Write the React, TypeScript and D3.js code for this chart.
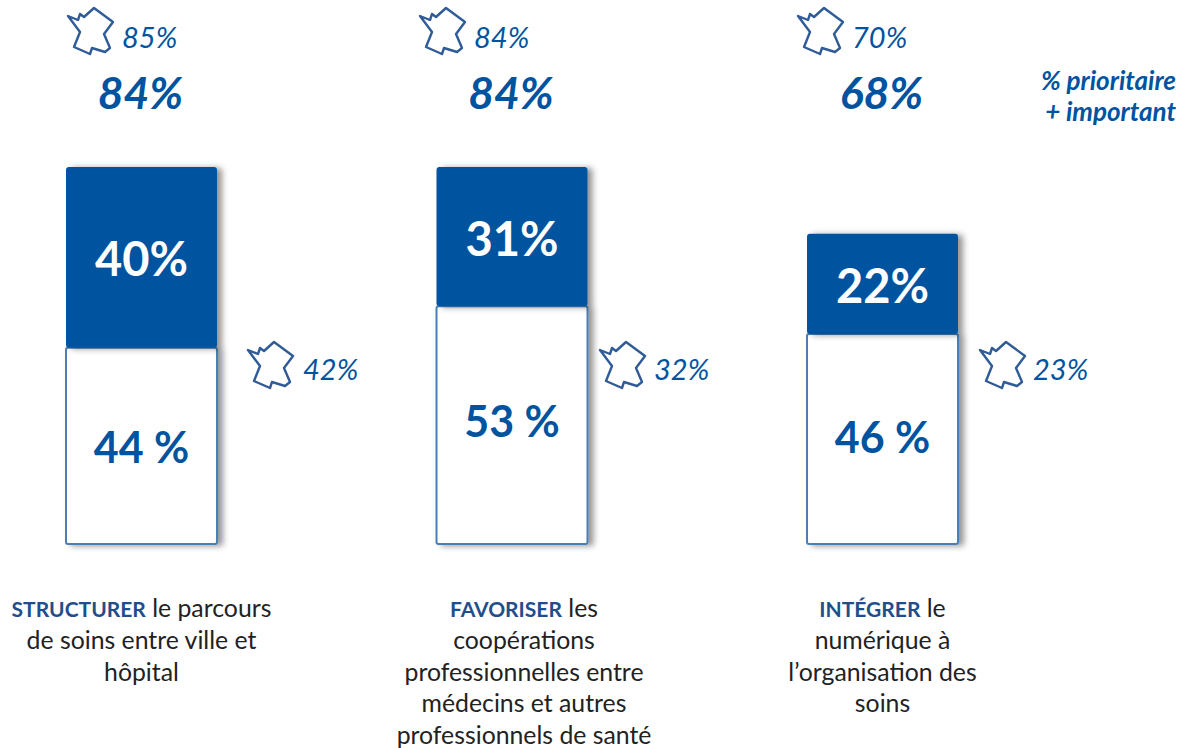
import React from "react";
import * as d3 from "d3";

const categories = ["structurer", "favoriser", "integrer"];
// segment heights, labels as printed
const prioritaire = [40.3, 31, 22.3];
const important = [43.7, 53, 46.8];
const prioritaireLabels = ["40%", "31%", "22%"];
const importantLabels = ["44 %", "53 %", "46 %"];
const totalLabels = ["84%", "84%", "68%"];
const franceTotalLabels = ["85%", "84%", "70%"];
const francePrioritaireLabels = ["42%", "32%", "23%"];
const captions = [
  [[["STRUCTURER", true], [" le parcours", false]], "de soins entre ville et", "hôpital"],
  [[["FAVORISER", true], [" les", false]], "coopérations", "professionnelles entre", "médecins et autres", "professionnels de santé"],
  [[["INTÉGRER", true], [" le", false]], "numérique à", "l’organisation des", "soins"],
];
const legendLines = ["% prioritaire", "+ important"];

// layout: the icons and inner labels are not placed evenly in the original
const topIconX = [68, 420, 798];
const sideIconX = [248, 600, 980];
const sideTextX = [303, 654, 1033];
const lowerLabelShift = [17, 12, 14];
const captionShift = [0, 12, 0];

const BLUE = "#00539f";
const FONT = "Lato, Carlito, sans-serif";

const x = d3.scaleBand<string>().domain(categories).range([66, 958]).paddingInner(0.5925).paddingOuter(0);
const y = d3.scaleLinear().domain([0, 84]).range([544, 167]);

// outline of France, in icon units
const franceShape: [number, number][] = [
  [0, 8], [10, 12], [12, 6], [16, 9], [26, 0], [45, 14], [36, 26], [42, 40],
  [37, 44], [24, 40], [22, 46], [6, 39], [12, 24],
];
const francePath = d3.line().curve(d3.curveLinearClosed)(franceShape) as string;

const France = ({ px, py }: { px: number; py: number }) => (
  <path d={francePath} transform={`translate(${px},${py})`} fill="#fff" stroke="#2f5c97" strokeWidth={2.4} strokeLinejoin="round" />
);

export default function App() {
  const bw = x.bandwidth();
  return (
    <svg width={1182} height={748} style={{ position: "absolute", left: 0, top: 0 }} fontFamily={FONT}>
      <defs>
        <filter id="shadow" x="-10%" y="-10%" width="125%" height="120%">
          <feDropShadow dx={5} dy={1} stdDeviation={3} floodColor="#000" floodOpacity={0.42} />
        </filter>
      </defs>

      {categories.map((c, i) => {
        const left = x(c) as number;
        const cx = left + bw / 2;
        const mid = y(important[i]);
        const top = y(important[i] + prioritaire[i]);
        return (
          <g key={c}>
            <rect x={left} y={mid} width={bw} height={y(0) - mid} rx={2} fill="#fff" stroke="#4a7fb5" strokeWidth={2} filter="url(#shadow)" />
            <rect x={left} y={top} width={bw} height={mid - top} rx={3} fill={BLUE} filter="url(#shadow)" />
            <text x={cx} y={(top + mid) / 2 + 19} textAnchor="middle" fontSize={47} fontWeight={700} fill="#fff">{prioritaireLabels[i]}</text>
            <text x={cx} y={(mid + y(0)) / 2 + lowerLabelShift[i]} textAnchor="middle" fontSize={43} fontWeight={700} fill={BLUE}>{importantLabels[i]}</text>

            <text x={cx - 1} y={109} textAnchor="middle" fontSize={44.5} fontWeight={700} fontStyle="italic" fill={BLUE}>{totalLabels[i]}</text>

            <France px={topIconX[i]} py={8} />
            <text x={topIconX[i] + 54} y={48} fontSize={29} fontStyle="italic" fill={BLUE}>{franceTotalLabels[i]}</text>

            <France px={sideIconX[i]} py={342} />
            <text x={sideTextX[i]} y={380} fontSize={29} fontStyle="italic" fill={BLUE}>{francePrioritaireLabels[i]}</text>

            {captions[i].map((line, k) => (
              <text key={k} x={cx + captionShift[i]} y={617 + k * 31.8} textAnchor="middle" fontSize={24.8} fill="#222">
                {typeof line === "string"
                  ? line
                  : (line as [string, boolean][]).map(([t, bold], j) => (
                      <tspan key={j} fontSize={bold ? 21 : 24.8} fontWeight={bold ? 700 : 400} fill={bold ? "#1f4e8c" : "#222"}>{t}</tspan>
                    ))}
              </text>
            ))}
          </g>
        );
      })}

      {legendLines.map((t, i) => (
        <text key={t} x={1176} y={90 + i * 31} textAnchor="end" fontSize={26} fontWeight={700} fontStyle="italic" fill={BLUE}>{t}</text>
      ))}
    </svg>
  );
}
